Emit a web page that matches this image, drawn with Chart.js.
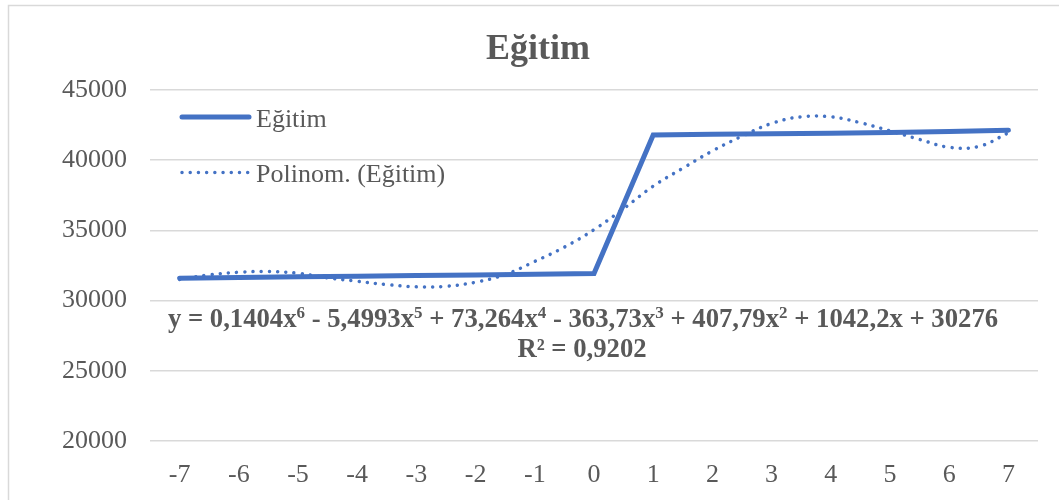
<!DOCTYPE html>
<html>
<head>
<meta charset="utf-8">
<script src="https://cdn.jsdelivr.net/npm/chart.js@4"></script>
<style>
  html, body { margin: 0; padding: 0; background: #fff; }
  canvas { display: block; }
</style>
</head>
<body>
<canvas id="chart" width="1059" height="500"></canvas>
<script>
// Eğitim chart with polynomial trendline
const xLabels = [-7, -6, -5, -4, -3, -2, -1, 0, 1, 2, 3, 4, 5, 6, 7];
const egitim = [31600, 31650, 31700, 31740, 31780, 31830, 31880, 31930, 41790, 41840, 41880, 41920, 41970, 42050, 42140];

// trendline at half steps
const trendX = [-7, -6.5, -6, -5.5, -5, -4.5, -4, -3.5, -3, -2.5, -2, -1.5, -1, -0.5, 0, 0.5, 1, 1.5, 2, 2.5, 3, 3.5, 4, 4.5, 5, 5.5, 6, 6.5, 7];
const trendY = [31500, 31830, 32020, 32070, 31950, 31620, 31380, 31140, 30980, 31020, 31310, 31860, 32790, 33810, 35050, 36550, 38150, 39430, 40660, 41710, 42620, 43090, 43090, 42670, 42090, 41480, 40920, 40980, 41950];

const yTicks = [20000, 25000, 30000, 35000, 40000, 45000];

const titleText = 'Eğitim';
const legendLabels = ['Eğitim', 'Polinom. (Eğitim)'];
const eqParts = [
    ['y = 0,1404x', '6'],
    [' - 5,4993x', '5'],
    [' + 73,264x', '4'],
    [' - 363,73x', '3'],
    [' + 407,79x', '2'],
    [' + 1042,2x + 30276', '']
];
const r2Text = 'R² = 0,9202';

const BLUE = '#4472C4';
const GREY = '#595959';
const SERIF = '"Liberation Serif", "Times New Roman", serif';

const decorPlugin = {
    id: 'decor',
    afterDraw(chart) {
        const ctx = chart.ctx;
        ctx.save();

        // outer frame
        ctx.strokeStyle = '#d9d9d9';
        ctx.lineWidth = 1.5;
        ctx.beginPath();
        ctx.moveTo(8.5, 600);
        ctx.lineTo(8.5, 5.5);
        ctx.lineTo(1059, 5.5);
        ctx.stroke();

        // title
        ctx.fillStyle = GREY;
        ctx.font = 'bold 36px ' + SERIF;
        ctx.textAlign = 'center';
        ctx.textBaseline = 'alphabetic';
        ctx.fillText(titleText, 538, 59);

        // legend
        ctx.lineCap = 'round';
        ctx.strokeStyle = BLUE;
        ctx.lineWidth = 5;
        ctx.beginPath();
        ctx.moveTo(182, 117);
        ctx.lineTo(249, 117);
        ctx.stroke();

        ctx.lineWidth = 3.5;
        ctx.setLineDash([0.01, 8.2]);
        ctx.beginPath();
        ctx.moveTo(182, 172.5);
        ctx.lineTo(250, 172.5);
        ctx.stroke();
        ctx.setLineDash([]);

        ctx.font = '26px ' + SERIF;
        ctx.textAlign = 'left';
        ctx.fillText(legendLabels[0], 256, 127);
        ctx.fillText(legendLabels[1], 256, 182);

        // trendline equation
        const big = 'bold 26.7px ' + SERIF;
        const small = 'bold 17px ' + SERIF;
        let total = 0;
        eqParts.forEach(p => {
            ctx.font = big; total += ctx.measureText(p[0]).width;
            ctx.font = small; total += ctx.measureText(p[1]).width;
        });
        let x = 583 - total / 2;
        eqParts.forEach(p => {
            ctx.font = big;
            ctx.fillText(p[0], x, 327);
            x += ctx.measureText(p[0]).width;
            ctx.font = small;
            ctx.fillText(p[1], x, 318);
            x += ctx.measureText(p[1]).width;
        });
        ctx.font = big;
        ctx.textAlign = 'center';
        ctx.fillText(r2Text, 582, 357);

        ctx.restore();
    }
};

new Chart(document.getElementById('chart'), {
    type: 'line',
    data: {
        datasets: [
            {
                label: legendLabels[0],
                data: xLabels.map((x, i) => ({ x: x, y: egitim[i] })),
                borderColor: BLUE,
                borderWidth: 5,
                borderCapStyle: 'round',
                borderJoinStyle: 'miter',
                pointRadius: 0,
                tension: 0,
                order: 1
            },
            {
                label: legendLabels[1],
                data: trendX.map((x, i) => ({ x: x, y: trendY[i] })),
                borderColor: BLUE,
                borderWidth: 3.5,
                borderDash: [0.01, 8.2],
                borderCapStyle: 'round',
                pointRadius: 0,
                tension: 0.4,
                order: 0
            }
        ]
    },
    options: {
        responsive: false,
        animation: false,
        devicePixelRatio: 1,
        layout: { padding: { left: 0, right: 21, top: 90, bottom: 0 } },
        plugins: {
            legend: { display: false },
            title: { display: false },
            tooltip: { enabled: false }
        },
        scales: {
            x: {
                type: 'linear',
                min: -7.5,
                max: 7.5,
                afterBuildTicks: s => { s.ticks = xLabels.map(v => ({ value: v })); },
                afterFit: s => { s.height = 59; },
                grid: { display: false },
                border: { display: false },
                ticks: {
                    autoSkip: false,
                    maxRotation: 0,
                    padding: 11,
                    color: GREY,
                    font: { family: SERIF, size: 26 },
                    callback: v => String(v)
                }
            },
            y: {
                min: 20000,
                max: 45000,
                afterBuildTicks: s => { s.ticks = yTicks.map(v => ({ value: v })); },
                afterFit: s => { s.width = 150; },
                grid: { color: '#d9d9d9', lineWidth: 1.5, drawTicks: false },
                border: { display: false },
                ticks: {
                    padding: 23,
                    color: GREY,
                    font: { family: SERIF, size: 26 },
                    callback: v => String(v)
                }
            }
        }
    },
    plugins: [decorPlugin]
});
</script>
</body>
</html>
